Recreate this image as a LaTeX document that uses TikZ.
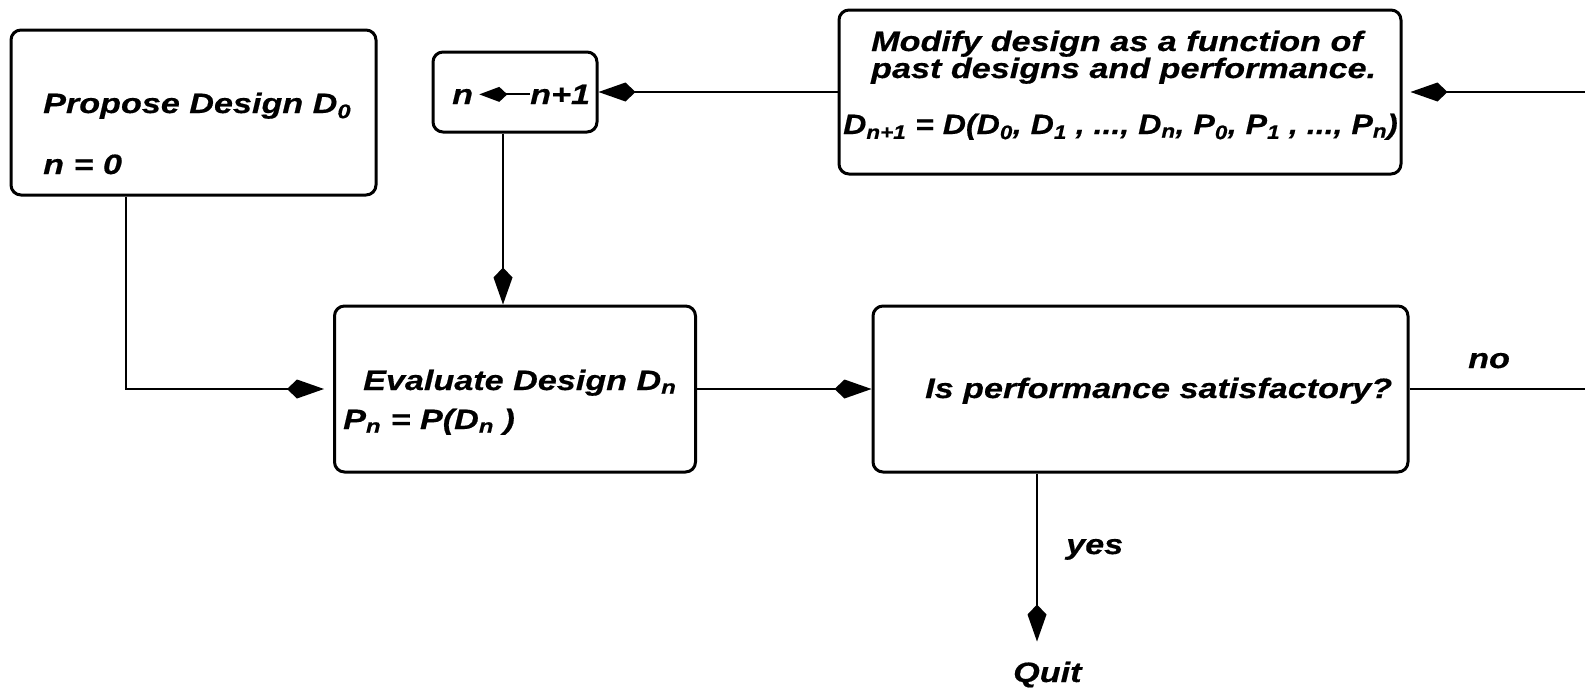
\documentclass[tikz,border=0pt]{standalone}
\usepackage{fontspec}
\usepackage{graphicx}
\setmainfont[FakeStretch=1.22, BoldItalicFeatures={FakeBold=0.5}]{Liberation Sans}
\usetikzlibrary{arrows.meta,positioning,calc}

\tikzset{
  box/.style={draw, line width=3pt, rounded corners=10pt},
  txt/.style={inner sep=0pt, anchor=base west},
  link/.style={line width=2.6pt, -{Kite[length=37pt,width=19pt,inset=10pt]}},
}

\begin{document}
\begin{tikzpicture}[x=1pt, y=-1pt, font=\fontsize{28}{28}\selectfont\bfseries\itshape]
  \useasboundingbox (0,0) rectangle (1585,688);

  % boxes
  \node[box, minimum width=365pt, minimum height=165pt] (propose) at (193.5,112.5) {};
  \node[box, minimum width=164pt, minimum height=80pt] (nbox) at (515,92) {};
  \node[box, minimum width=562pt, minimum height=164pt] (modify) at (1120,92) {};
  \node[box, minimum width=361pt, minimum height=166pt] (evaluate) at (515,389) {};
  \node[box, minimum width=535pt, minimum height=166pt] (perf) at (1140.5,389) {};

  % texts
  \node[txt] (propose1) at (43,113) {Propose Design D\textsubscript{0}};
  \node[txt] (propose2) at (43,174) {n = 0};
  \node[txt] (nold) at (452,104) {n};
  \node[txt] (nnew) at (530,104) {n+1};
  \node[txt] (modify1) at (871,51) {Modify design as a function of};
  \node[txt] (modify2) at (871,78) {past designs and performance.};
  \node[txt] (modify3) at (843,134) {\scalebox{0.94}[1]{D\textsubscript{n+1} = D(D\textsubscript{0}, D\textsubscript{1} , ..., D\textsubscript{n}, P\textsubscript{0}, P\textsubscript{1} , ..., P\textsubscript{n})}};
  \node[txt] (eval1) at (363,390) {Evaluate Design D\textsubscript{n}};
  \node[txt] (eval2) at (343,429) {P\textsubscript{n} = P(D\textsubscript{n} )};
  \node[txt] (perf1) at (925,398) {Is performance satisfactory?};
  \node[txt] (no) at (1468,368) {no};
  \node[txt] (yes) at (1066,554) {yes};
  \node[txt] (quit) at (1013,682) {Quit};

  \coordinate (noend) at (1585,389);
  \coordinate (topend) at (1585,92);
  \coordinate (yesline) at ($(perf.south)+(-103.5,0)$);

  % connectors
  \draw[link, shorten >=9pt] ([xshift=-67.5pt]propose.south) |- (evaluate.west);
  \draw[link] ([xshift=-12pt]nbox.south) -- ([xshift=-12pt]evaluate.north);
  \draw[link] (modify.west) -- (nbox.east);
  \draw[link, shorten >=8pt] (topend) -- (modify.east);
  \draw[link] (evaluate.east) -- (perf.west);
  \draw[line width=2.6pt] (perf.east) -- (noend);
  \draw[link, shorten >=20pt] (yesline) -- (yesline |- quit.north);
  \draw[line width=2pt, -{Kite[length=28pt,width=15pt,inset=8pt]}, shorten >=6pt] (nnew.west) -- (nnew.west -| nold.east);

\end{tikzpicture}
\end{document}
